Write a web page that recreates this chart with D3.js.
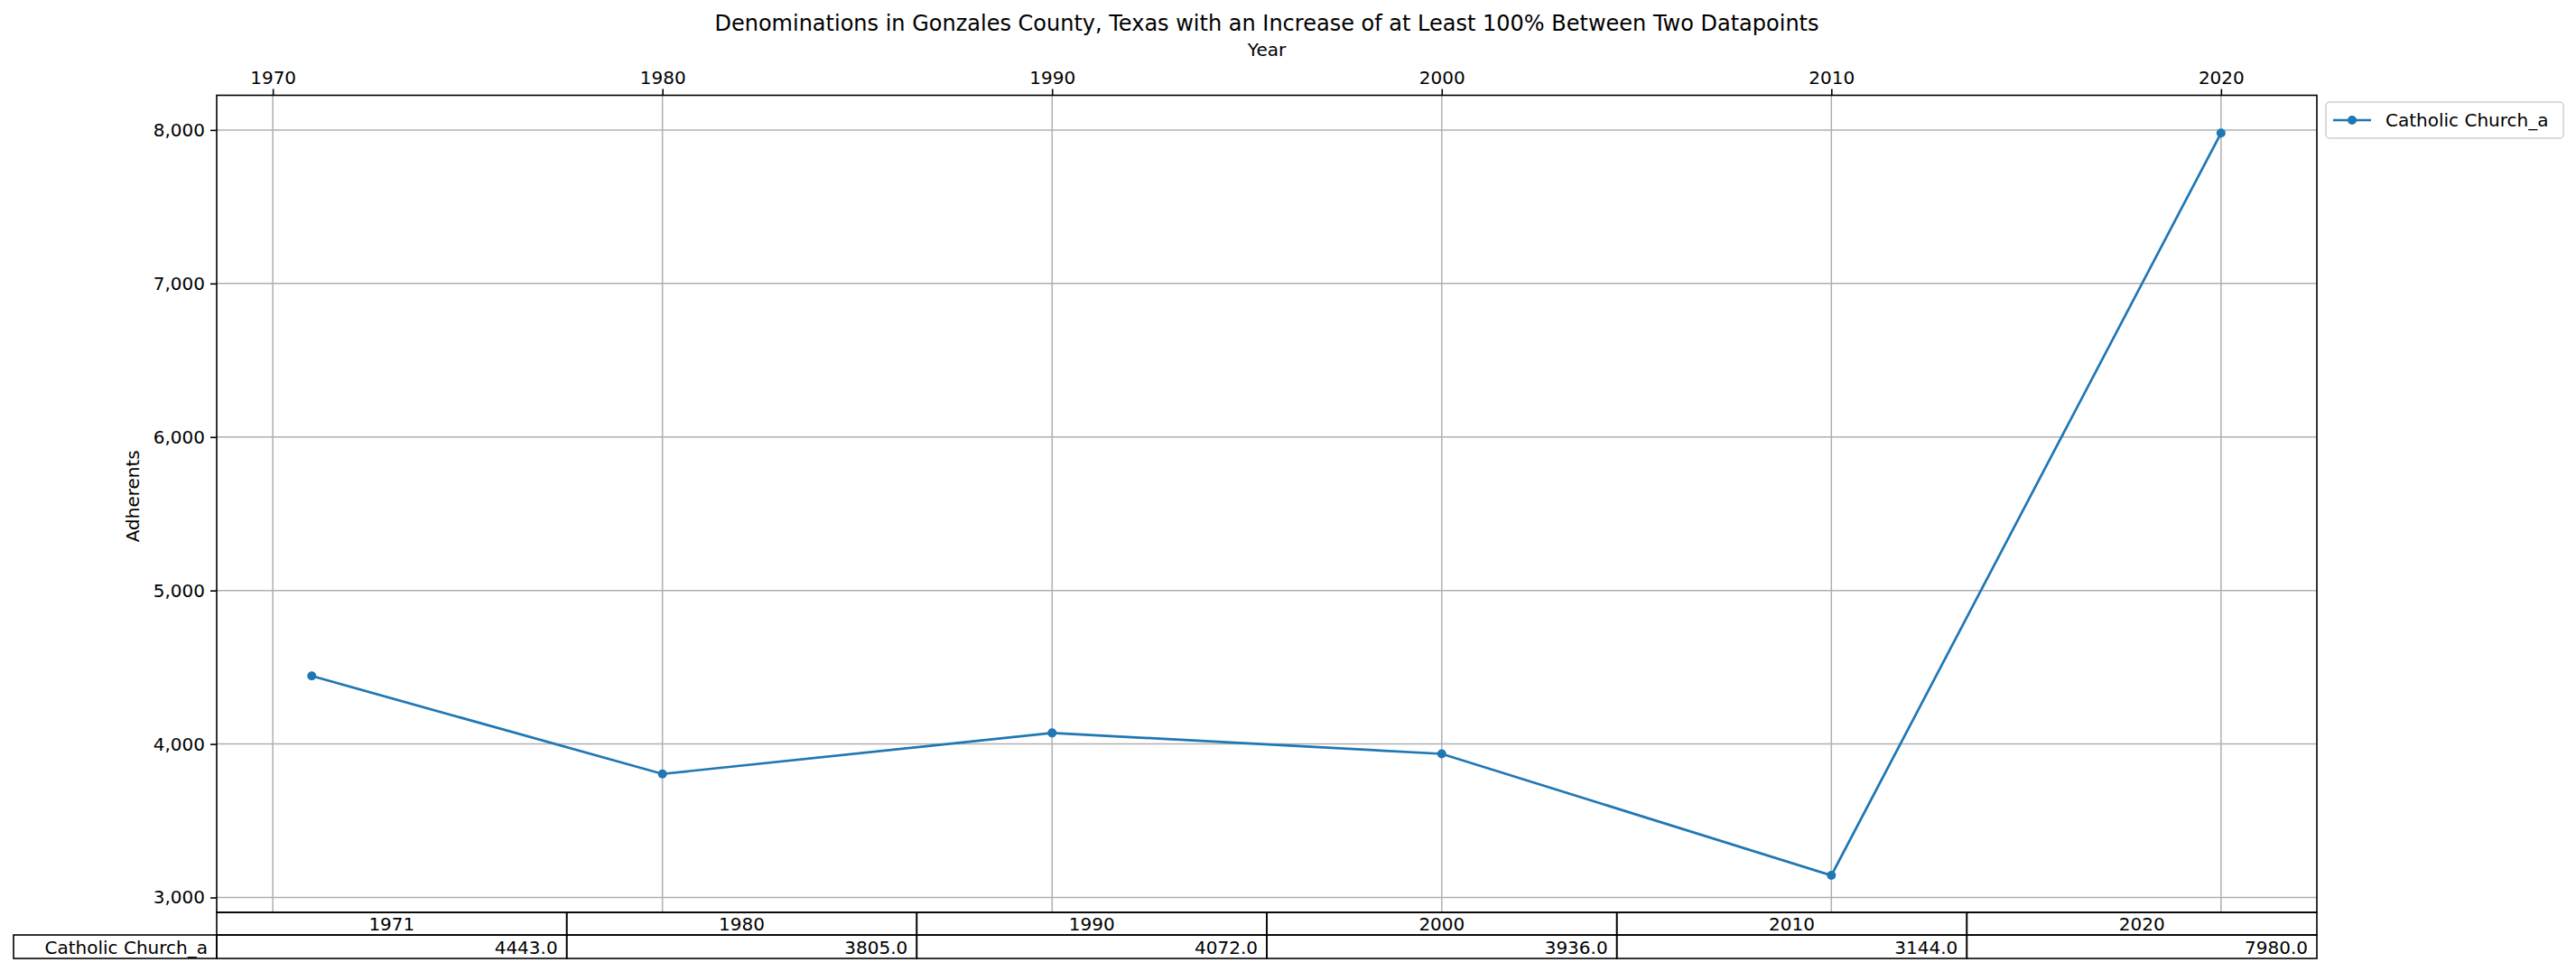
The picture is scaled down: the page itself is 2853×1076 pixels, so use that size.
<!DOCTYPE html>
<html><head><meta charset="utf-8">
<script src="https://cdn.jsdelivr.net/npm/d3@7"></script>
<style>body{margin:0;background:#fff}text{font-family:"DejaVu Sans",sans-serif;fill:#000}</style>
</head><body><svg id="c" width="2853" height="1076"></svg>
<script>
const years = [1971, 1980, 1990, 2000, 2010, 2020];
const values = [4443, 3805, 4072, 3936, 3144, 7980];
const seriesName = "Catholic Church_a";
const xTicks = [1970, 1980, 1990, 2000, 2010, 2020];
const yTicks = [3000, 4000, 5000, 6000, 7000, 8000];

const pLeft = 240, pRight = 2566, pTop = 105.5, pBottom = 1010;
const color = "#1f77b4";
const svg = d3.select("#c");
const x = d3.scaleLinear().domain([1968.56, 2022.46]).range([pLeft, pRight]);
const y = d3.scaleLinear().domain([2903, 8226]).range([pBottom, pTop]);

// grid
svg.append("g").selectAll("line").data(xTicks).enter().append("line")
  .attr("x1", d => x(d)).attr("x2", d => x(d)).attr("y1", pTop).attr("y2", pBottom)
  .attr("stroke", "#b0b0b0").attr("stroke-width", 1.5);
svg.append("g").selectAll("line").data(yTicks).enter().append("line")
  .attr("x1", pLeft).attr("x2", pRight).attr("y1", d => y(d)).attr("y2", d => y(d))
  .attr("stroke", "#b0b0b0").attr("stroke-width", 1.5);

// axes
const xAxis = svg.append("g").attr("transform", `translate(0,${pTop})`)
  .call(d3.axisTop(x).tickValues(xTicks).tickFormat(d3.format("d")).tickSize(7).tickPadding(6));
const yAxis = svg.append("g").attr("transform", `translate(${pLeft},0)`)
  .call(d3.axisLeft(y).tickValues(yTicks).tickFormat(d3.format(",")).tickSize(7).tickPadding(6));
[xAxis, yAxis].forEach(a => {
  a.select(".domain").remove();
  a.selectAll("text").attr("font-size", 20).attr("font-family", "DejaVu Sans");
  a.selectAll("line").attr("stroke-width", 1.6);
});
svg.append("rect").attr("x", pLeft).attr("y", pTop).attr("width", pRight - pLeft).attr("height", pBottom - pTop)
  .attr("fill", "none").attr("stroke", "#000").attr("stroke-width", 1.6);

// line
svg.append("path").datum(years.map((d, i) => [d, values[i]]))
  .attr("d", d3.line().x(d => x(d[0])).y(d => y(d[1])))
  .attr("fill", "none").attr("stroke", color).attr("stroke-width", 2.7);
svg.selectAll(".pt").data(years).enter().append("circle")
  .attr("cx", d => x(d)).attr("cy", (d, i) => y(values[i])).attr("r", 5).attr("fill", color);

// titles
svg.append("text").attr("x", 1403).attr("y", 34).attr("text-anchor", "middle").attr("font-size", 24)
  .text("Denominations in Gonzales County, Texas with an Increase of at Least 100% Between Two Datapoints");
svg.append("text").attr("x", 1403).attr("y", 62).attr("text-anchor", "middle").attr("font-size", 20).text("Year");
svg.append("text").attr("transform", `translate(154,${(pTop + 993) / 2}) rotate(-90)`)
  .attr("text-anchor", "middle").attr("font-size", 20).text("Adherents");

// legend
const lg = svg.append("g").attr("transform", "translate(2576,113)");
lg.append("rect").attr("width", 263).attr("height", 40).attr("rx", 4)
  .attr("fill", "#fff").attr("stroke", "#d0d0d0").attr("stroke-width", 1.5);
lg.append("line").attr("x1", 8).attr("x2", 50).attr("y1", 20).attr("y2", 20).attr("stroke", color).attr("stroke-width", 2.7);
lg.append("circle").attr("cx", 29).attr("cy", 20).attr("r", 5).attr("fill", color);
lg.append("text").attr("x", 66).attr("y", 27).attr("font-size", 20).text(seriesName);

// table
const colW = (pRight - pLeft) / years.length;
const r1 = 1010, r2 = 1035, r3 = 1061;
const tb = svg.append("g");
years.forEach((yr, i) => {
  const cx = pLeft + i * colW;
  tb.append("rect").attr("x", cx).attr("y", r1).attr("width", colW).attr("height", r2 - r1)
    .attr("fill", "none").attr("stroke", "#000").attr("stroke-width", 1.6);
  tb.append("rect").attr("x", cx).attr("y", r2).attr("width", colW).attr("height", r3 - r2)
    .attr("fill", "none").attr("stroke", "#000").attr("stroke-width", 1.6);
  tb.append("text").attr("x", cx + colW / 2).attr("y", r2 - 5).attr("text-anchor", "middle").attr("font-size", 20).text(yr);
  tb.append("text").attr("x", cx + colW - 10).attr("y", r3 - 5).attr("text-anchor", "end").attr("font-size", 20)
    .text(values[i].toFixed(1));
});
tb.append("rect").attr("x", 15).attr("y", r2).attr("width", pLeft - 15).attr("height", r3 - r2)
  .attr("fill", "none").attr("stroke", "#000").attr("stroke-width", 1.6);
tb.append("text").attr("x", pLeft - 10).attr("y", r3 - 5).attr("text-anchor", "end").attr("font-size", 20).text(seriesName);
</script></body></html>
